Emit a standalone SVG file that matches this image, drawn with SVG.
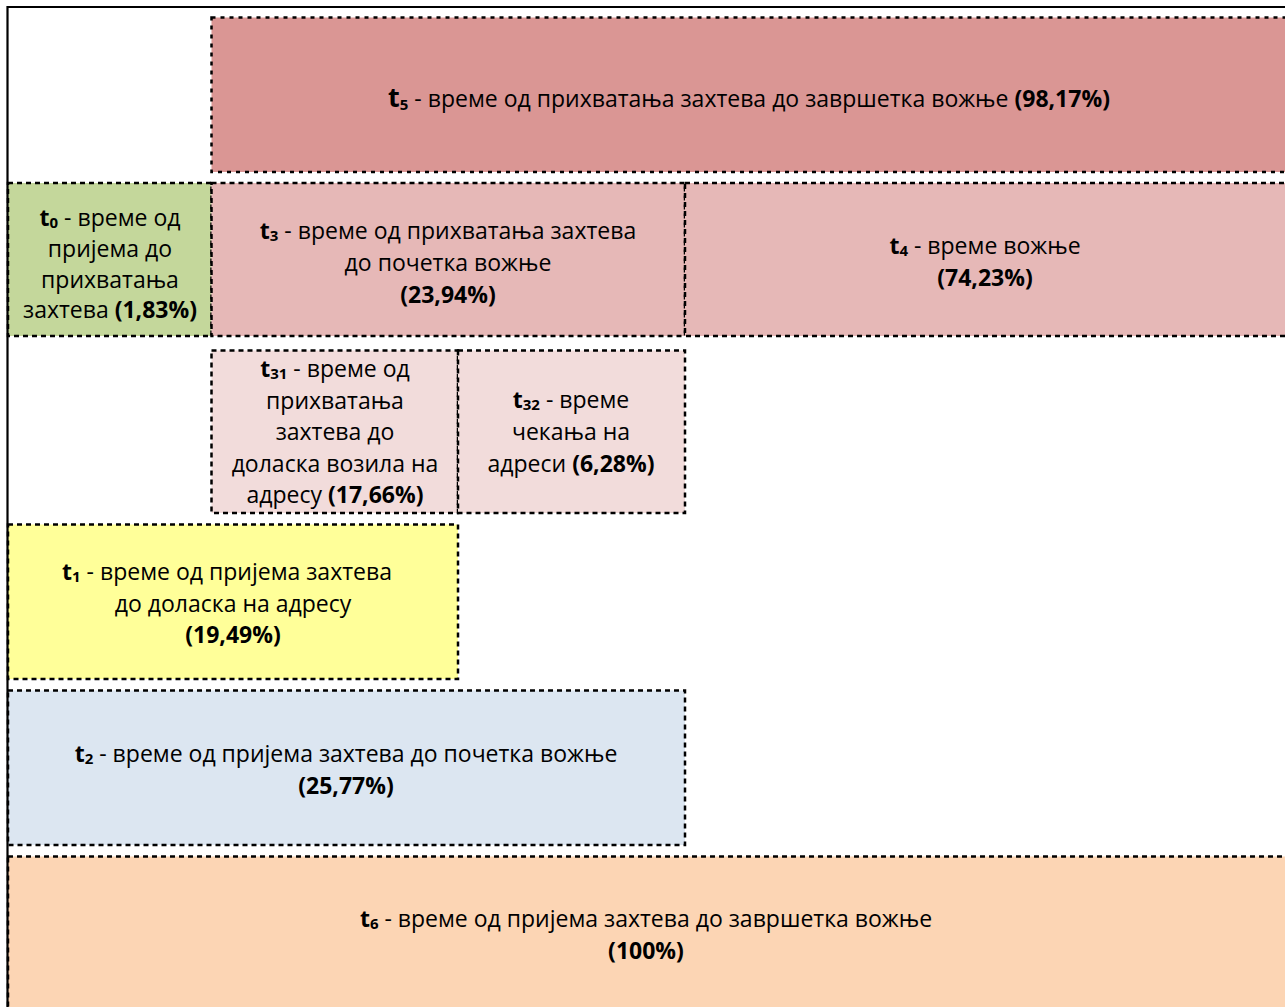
<svg xmlns="http://www.w3.org/2000/svg" width="1285" height="1007" viewBox="0 0 1285 1007">
  <style>
    .box { stroke: #000; stroke-width: 2.5; stroke-dasharray: 5 4; }
    .box.dot { stroke-dasharray: 4 5; }
    .lbl { font-family: "Open Sans", "Noto Sans", sans-serif; font-size: 23px; fill: #000; text-anchor: middle; }
    .b { font-weight: bold; }
    .sub { font-weight: bold; font-size: 15px; }
    .frame { fill: none; stroke: #000; stroke-width: 2.2; }
  </style>
  <rect x="0" y="0" width="1285" height="1007" fill="#fff"/>

  <!-- t5: acceptance to end of ride -->
  <g id="t5">
    <rect class="box dot" x="211.5" y="17.5" width="1080" height="154.5" fill="#DA9694"/>
    <text class="lbl" x="749" y="107"><tspan class="b" font-size="27">t</tspan><tspan class="sub" font-size="18" dy="3">5</tspan><tspan dy="-3"> - време од прихватања захтева до завршетка вожње </tspan><tspan class="b">(98,17%)</tspan></text>
  </g>

  <!-- t0: receipt to acceptance -->
  <g id="t0">
    <rect class="box" x="8" y="183" width="203.5" height="153" fill="#C4D79B"/>
    <text class="lbl" x="110" y="226"><tspan class="b">t</tspan><tspan class="sub" dy="2">0</tspan><tspan dy="-2"> - време од</tspan></text>
    <text class="lbl" x="110" y="257">пријема до</text>
    <text class="lbl" x="110" y="288">прихватања</text>
    <text class="lbl" x="110" y="318">захтева <tspan class="b">(1,83%)</tspan></text>
  </g>

  <!-- t3: acceptance to start of ride -->
  <g id="t3">
    <rect class="box" x="211.5" y="183" width="473.5" height="153" fill="#E6B8B7"/>
    <text class="lbl" x="448" y="239"><tspan class="b">t</tspan><tspan class="sub" dy="2">3</tspan><tspan dy="-2"> - време од прихватања захтева</tspan></text>
    <text class="lbl" x="448" y="271">до почетка вожње</text>
    <text class="lbl b" x="448" y="303">(23,94%)</text>
  </g>

  <!-- t4: ride time -->
  <g id="t4">
    <rect class="box" x="685" y="183" width="606" height="153" fill="#E6B8B7"/>
    <text class="lbl" x="985" y="254"><tspan class="b">t</tspan><tspan class="sub" dy="2">4</tspan><tspan dy="-2"> - време вожње</tspan></text>
    <text class="lbl b" x="985" y="286">(74,23%)</text>
  </g>

  <!-- t31: acceptance to vehicle arrival -->
  <g id="t31">
    <rect class="box" x="211.5" y="350.5" width="246.5" height="162.5" fill="#F2DCDB"/>
    <text class="lbl" x="335" y="377"><tspan class="b">t</tspan><tspan class="sub" dy="2">31</tspan><tspan dy="-2"> - време од</tspan></text>
    <text class="lbl" x="335" y="409">прихватања</text>
    <text class="lbl" x="335" y="440">захтева до</text>
    <text class="lbl" x="335" y="472">доласка возила на</text>
    <text class="lbl" x="335" y="503">адресу <tspan class="b">(17,66%)</tspan></text>
  </g>

  <!-- t32: waiting at the address -->
  <g id="t32">
    <rect class="box" x="458" y="350.5" width="227" height="162.5" fill="#F2DCDB"/>
    <text class="lbl" x="571" y="408"><tspan class="b">t</tspan><tspan class="sub" dy="2">32</tspan><tspan dy="-2"> - време</tspan></text>
    <text class="lbl" x="571" y="440">чекања на</text>
    <text class="lbl" x="571" y="472">адреси <tspan class="b">(6,28%)</tspan></text>
  </g>

  <!-- t1: receipt to arrival -->
  <g id="t1">
    <rect class="box" x="8" y="524.5" width="450" height="154.5" fill="#FFFF99"/>
    <text class="lbl" x="227" y="580"><tspan class="b">t</tspan><tspan class="sub" dy="2">1</tspan><tspan dy="-2"> - време од пријема захтева</tspan></text>
    <text class="lbl" x="233" y="612">до доласка на адресу</text>
    <text class="lbl b" x="233" y="643">(19,49%)</text>
  </g>

  <!-- t2: receipt to start of ride -->
  <g id="t2">
    <rect class="box" x="8" y="690.5" width="677" height="154.5" fill="#DCE6F1"/>
    <text class="lbl" x="346" y="762"><tspan class="b">t</tspan><tspan class="sub" dy="2">2</tspan><tspan dy="-2"> - време од пријема захтева до почетка вожње</tspan></text>
    <text class="lbl b" x="346" y="794">(25,77%)</text>
  </g>

  <!-- t6: receipt to end of ride -->
  <g id="t6">
    <rect class="box" x="8" y="856.5" width="1283" height="160" fill="#FCD5B4"/>
    <text class="lbl" x="646" y="927"><tspan class="b">t</tspan><tspan class="sub" dy="2">6</tspan><tspan dy="-2"> - време од пријема захтева до завршетка вожње</tspan></text>
    <text class="lbl b" x="646" y="959">(100%)</text>
  </g>

  <!-- outer frame (top and left edges) -->
  <g id="connectors">
    <path class="frame" d="M7.5 1010 V7 H1290"/>
  </g>
</svg>
